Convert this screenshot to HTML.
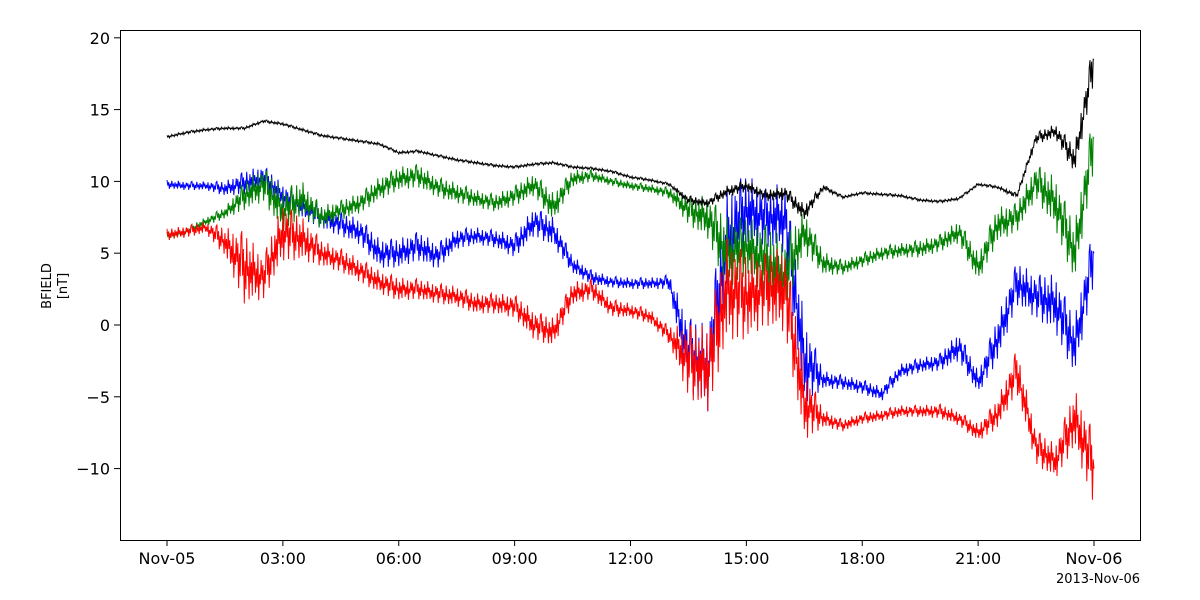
<!DOCTYPE html>
<html><head><meta charset="utf-8"><style>
body{margin:0;background:#fff;font-family:"DejaVu Sans","Liberation Sans",sans-serif;}
svg{display:block}
</style></head><body>
<svg id="chart" width="1200" height="600" xmlns="http://www.w3.org/2000/svg">
<g id="plot"></g>
<rect x="120.5" y="30.5" width="1020" height="510" fill="none" stroke="#000" stroke-width="1"/>
<g id="axes" font-size="16" fill="#000"></g>
<text transform="translate(51,286) rotate(-90)" text-anchor="middle" font-size="13">BFIELD</text>
<text transform="translate(67,286) rotate(-90)" text-anchor="middle" font-size="13">[nT]</text>
<text x="1140" y="583" text-anchor="end" font-size="13">2013-Nov-06</text>
</svg>
<script>
// hours since 2013-11-05 00:00, 0.5h steps
const hours = [0,0.5,1,1.5,2,2.5,3,3.5,4,4.5,5,5.5,6,6.5,7,7.5,8,8.5,9,9.5,10,10.5,11,11.5,12,12.5,13,13.5,14,14.5,15,15.5,16,16.5,17,17.5,18,18.5,19,19.5,20,20.5,21,21.5,22,22.5,23,23.5,24];
const bx = [9.8,9.7,9.7,9.5,9.9,10.3,9.0,8.2,7.5,7.0,6.5,5.0,5.0,5.5,4.8,6.0,6.2,6.0,5.5,7.2,6.5,4.2,3.3,3.0,2.9,2.9,3.0,-2.0,-3.0,6.0,8.0,7.5,7.5,-2.5,-3.8,-4.0,-4.3,-4.8,-3.2,-2.8,-2.6,-1.5,-4.0,-1.0,2.9,2.0,1.5,-1.5,5.0];
const by = [6.2,6.5,7.2,7.8,9.0,9.8,8.0,8.8,7.5,8.0,8.5,9.5,10.2,10.4,9.6,9.2,8.8,8.5,9.0,9.8,8.2,10.2,10.4,10.0,9.7,9.5,9.2,8.0,7.5,5.0,5.5,4.5,3.5,6.5,4.3,4.0,4.5,5.0,5.2,5.3,5.7,6.5,4.0,7.0,7.5,10.0,8.5,5.0,13.0];
const bz = [6.3,6.5,6.8,5.8,4.0,3.3,6.5,6.0,5.0,4.5,3.8,3.0,2.5,2.5,2.2,2.0,1.5,1.5,1.3,0.0,-0.5,2.2,2.5,1.2,1.0,0.6,-0.7,-2.5,-3.0,2.5,2.0,2.5,2.5,-5.5,-6.5,-7.0,-6.5,-6.3,-6.0,-6.0,-6.0,-6.5,-7.5,-6.2,-3.2,-8.5,-9.5,-6.5,-10.0];
const bt = [13.1,13.4,13.6,13.7,13.7,14.2,14.0,13.6,13.2,13.0,12.8,12.6,12.0,12.1,11.8,11.5,11.3,11.1,11.0,11.2,11.3,11.0,10.9,10.7,10.3,10.1,9.8,8.7,8.5,9.3,9.7,9.0,9.2,7.8,9.6,8.9,9.2,9.1,9.0,8.7,8.6,8.8,9.8,9.6,9.0,13.0,13.5,11.5,18.5];
// half-amplitude of fluctuations per sample
const bxSpread = [0.3,0.3,0.3,0.5,0.8,0.8,0.8,0.8,0.8,0.8,0.9,1.0,1.0,1.0,0.9,0.7,0.6,0.6,0.8,1.0,1.0,0.6,0.5,0.4,0.4,0.4,0.5,2.5,3.0,3.5,2.5,2.0,2.5,3.0,0.6,0.5,0.5,0.5,0.5,0.5,0.6,1.0,0.8,1.5,1.5,1.5,2.0,2.0,2.0];
const bySpread = [0.3,0.3,0.3,0.4,1.0,1.2,1.5,1.2,0.8,0.7,0.7,0.8,0.8,0.8,0.7,0.7,0.6,0.6,0.7,0.8,1.0,0.6,0.4,0.3,0.3,0.3,0.4,1.0,1.5,2.5,2.0,2.5,2.5,1.5,0.8,0.5,0.5,0.5,0.5,0.6,0.6,0.8,1.0,1.2,1.0,1.2,1.8,2.0,2.0];
const bzSpread = [0.4,0.4,0.4,1.0,2.5,1.5,2.0,1.5,0.9,0.8,0.8,0.8,0.8,0.7,0.7,0.7,0.7,0.7,0.8,1.0,1.0,0.8,0.7,0.6,0.5,0.5,0.6,2.5,3.0,3.5,3.0,2.5,3.0,2.5,0.6,0.4,0.4,0.4,0.4,0.4,0.5,0.5,0.6,1.0,1.5,1.2,1.2,2.0,2.5];
const btSpread = [0.1,0.1,0.1,0.1,0.1,0.1,0.1,0.1,0.1,0.1,0.1,0.1,0.1,0.1,0.1,0.1,0.1,0.1,0.1,0.1,0.1,0.1,0.1,0.1,0.1,0.1,0.1,0.3,0.3,0.4,0.4,0.4,0.5,0.6,0.2,0.1,0.1,0.1,0.1,0.1,0.1,0.1,0.1,0.1,0.2,0.4,0.5,1.0,1.5];
const yTicks = [-10,-5,0,5,10,15,20];
const xTickHours = [0,3,6,9,12,15,18,21,24];
const xTickLabels = ["Nov-05","03:00","06:00","09:00","12:00","15:00","18:00","21:00","Nov-06"];

const NS="http://www.w3.org/2000/svg";
const X = h => 167 + (h/24)*927;
const Y = v => 325 - v*14.36;
const plot=document.getElementById('plot');
const axes=document.getElementById('axes');
const jitter=[1,-0.3,0.5,-1,0.2,-0.6,0.9,-0.2,0.1,-0.9,0.6,-0.4,0.3,-0.8,1,-0.1,0.4,-0.7,0.2,-0.5,0.8,-1,0.05,-0.35,0.7,-0.15,0.55,-0.95,0.25,-0.45,0.85];

function series(vals, spread, color, name){
  let pts=[];
  const sub=24;
  for(let i=0;i<vals.length-1;i++){
    for(let k=0;k<sub;k++){
      const t=k/sub;
      const h=hours[i]+(hours[i+1]-hours[i])*t;
      const v=vals[i]+(vals[i+1]-vals[i])*t;
      const s=spread[i]+(spread[i+1]-spread[i])*t;
      pts.push(X(h).toFixed(1)+','+Y(v+s*jitter[(i*sub+k)%jitter.length]).toFixed(1));
    }
  }
  pts.push(X(hours[hours.length-1]).toFixed(1)+','+Y(vals[vals.length-1]).toFixed(1));
  const p=document.createElementNS(NS,'polyline');
  p.setAttribute('points',pts.join(' '));
  p.setAttribute('fill','none');
  p.setAttribute('stroke',color);
  p.setAttribute('stroke-width','1');
  
  
  plot.appendChild(p);
}
const clip=document.createElementNS(NS,'clipPath');clip.id='cp';
const cr=document.createElementNS(NS,'rect');cr.setAttribute('x',120);cr.setAttribute('y',30);cr.setAttribute('width',1020);cr.setAttribute('height',510);
clip.appendChild(cr);document.getElementById('chart').appendChild(clip);
plot.setAttribute('clip-path','url(#cp)');
series(bx,bxSpread,'#0000ff','bx-line');
series(by,bySpread,'#008000','by-line');
series(bz,bzSpread,'#ff0000','bz-line');
series(bt,btSpread,'#000000','bt-line');

yTicks.forEach(v=>{
  const y=Y(v);
  const l=document.createElementNS(NS,'line');
  l.setAttribute('x1',114);l.setAttribute('x2',120);l.setAttribute('y1',y);l.setAttribute('y2',y);l.setAttribute('stroke','#000');
  
  
  axes.appendChild(l);
  const t=document.createElementNS(NS,'text');
  t.setAttribute('x',110);t.setAttribute('y',y+6);t.setAttribute('text-anchor','end');
  t.textContent=(v<0?'\u2212'+(-v):v);
  
  
  axes.appendChild(t);
});
xTickHours.forEach((h,i)=>{
  const x=X(h);
  const l=document.createElementNS(NS,'line');
  l.setAttribute('x1',x);l.setAttribute('x2',x);l.setAttribute('y1',540);l.setAttribute('y2',546);l.setAttribute('stroke','#000');
  
  
  axes.appendChild(l);
  const t=document.createElementNS(NS,'text');
  t.setAttribute('x',x);t.setAttribute('y',564);t.setAttribute('text-anchor','middle');
  t.textContent=xTickLabels[i];
  
  
  axes.appendChild(t);
});
</script>
</body></html>
